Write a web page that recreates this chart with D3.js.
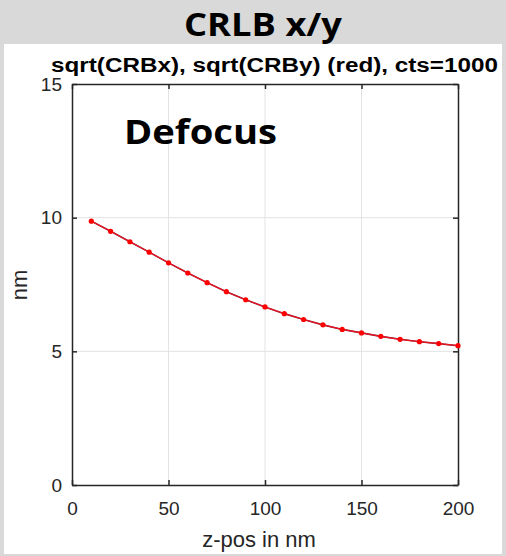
<!DOCTYPE html>
<html>
<head>
<meta charset="utf-8">
<script src="https://cdn.jsdelivr.net/npm/d3@7"></script>
<style>
  body { margin: 0; background: #d9d9d9; }
  svg { display: block; }
</style>
</head>
<body>
<div id="grafico"></div>
<script>
// dados
const zPos = [10, 20, 30, 40, 50, 60, 70, 80, 90, 100, 110, 120, 130, 140, 150, 160, 170, 180, 190, 200];
const crbY = [9.87, 9.49, 9.10, 8.71, 8.31, 7.93, 7.57, 7.23, 6.93, 6.66, 6.41, 6.19, 5.99, 5.82, 5.69, 5.56, 5.45, 5.36, 5.29, 5.21];
const crbX = crbY.slice(); // curva azul fica escondida por baixo da vermelha
const xTicks = [0, 50, 100, 150, 200];
const yTicks = [0, 5, 10, 15];

const width = 506, height = 556;
const margin = { top: 84, right: 48, bottom: 71, left: 72 };

const svg = d3.select("#grafico").append("svg")
    .attr("width", width)
    .attr("height", height);

// fundo cinza + painel branco
svg.append("rect").attr("width", width).attr("height", height).attr("fill", "#d9d9d9");
svg.append("rect").attr("x", 4).attr("y", 44).attr("width", 498).attr("height", 510).attr("fill", "#fff");

svg.append("text")
    .attr("x", 184).attr("y", 36)
    .attr("font-family", "'Open Sans', sans-serif")
    .attr("font-weight", "bold")
    .attr("font-size", 32)
    .attr("textLength", 158)
    .attr("lengthAdjust", "spacingAndGlyphs")
    .attr("fill", "#000")
    .text("CRLB x/y");

svg.append("text")
    .attr("x", 51).attr("y", 72)
    .attr("font-family", "'Liberation Sans', Arial, sans-serif")
    .attr("font-weight", "bold")
    .attr("font-size", 20)
    .attr("textLength", 447)
    .attr("lengthAdjust", "spacingAndGlyphs")
    .attr("fill", "#000")
    .text("sqrt(CRBx), sqrt(CRBy) (red), cts=1000");

const x = d3.scaleLinear().domain([0, 200]).range([margin.left, width - margin.right]);
const y = d3.scaleLinear().domain([0, 15]).range([height - margin.bottom, margin.top]);

// grade
const g = svg.append("g");
g.selectAll(".gx").data(xTicks.slice(1, -1)).enter().append("line")
    .attr("x1", d => x(d)).attr("x2", d => x(d))
    .attr("y1", y(0)).attr("y2", y(15))
    .attr("stroke", "#e3e3e3").attr("stroke-width", 1);
g.selectAll(".gy").data(yTicks.slice(1, -1)).enter().append("line")
    .attr("x1", x(0)).attr("x2", x(200))
    .attr("y1", d => y(d)).attr("y2", d => y(d))
    .attr("stroke", "#e3e3e3").attr("stroke-width", 1);

// texto "Defocus"
svg.append("text")
    .attr("x", 124).attr("y", 144)
    .attr("font-family", "'Open Sans', sans-serif")
    .attr("font-weight", "bold")
    .attr("font-size", 34)
    .attr("textLength", 153)
    .attr("lengthAdjust", "spacingAndGlyphs")
    .attr("fill", "#000")
    .text("Defocus");

// eixos (caixa estilo MATLAB, ticks para dentro)
const axisColor = "#262626";
const fontAxis = "'Liberation Sans', Arial, sans-serif";

function estilo(sel) {
    sel.select(".domain").attr("stroke", axisColor).attr("stroke-width", 1.5);
    sel.selectAll(".tick line").attr("stroke", axisColor).attr("stroke-width", 1.5);
    sel.selectAll(".tick text").attr("fill", axisColor).attr("font-family", fontAxis).attr("font-size", 19);
}

const eixoX = svg.append("g")
    .attr("transform", `translate(0,${y(0)})`)
    .call(d3.axisBottom(x).tickValues(xTicks).tickSizeInner(-5).tickSizeOuter(0).tickPadding(17));
estilo(eixoX);

const eixoY = svg.append("g")
    .attr("transform", `translate(${x(0)},0)`)
    .call(d3.axisLeft(y).tickValues(yTicks).tickSizeInner(-5).tickSizeOuter(0).tickPadding(10));
estilo(eixoY);

const eixoTopo = svg.append("g")
    .attr("transform", `translate(0,${y(15)})`)
    .call(d3.axisTop(x).tickValues(xTicks).tickSizeInner(-5).tickSizeOuter(0).tickFormat(""));
estilo(eixoTopo);

const eixoDir = svg.append("g")
    .attr("transform", `translate(${x(200)},0)`)
    .call(d3.axisRight(y).tickValues(yTicks).tickSizeInner(-5).tickSizeOuter(0).tickFormat(""));
estilo(eixoDir);

// rótulos dos eixos
svg.append("text")
    .attr("x", 259).attr("y", 547)
    .attr("text-anchor", "middle")
    .attr("font-family", fontAxis).attr("font-size", 22)
    .attr("fill", axisColor)
    .text("z-pos in nm");

svg.append("text")
    .attr("transform", `translate(27,285) rotate(-90)`)
    .attr("text-anchor", "middle")
    .attr("font-family", fontAxis).attr("font-size", 22)
    .attr("fill", axisColor)
    .text("nm");

// curvas
const linha = d3.line().x((d, i) => x(zPos[i])).y(d => y(d));

svg.append("path").datum(crbX)
    .attr("fill", "none").attr("stroke", "#7a3048").attr("stroke-width", 1.6)
    .attr("d", linha);

svg.append("path").datum(crbY)
    .attr("fill", "none").attr("stroke", "#f0101e").attr("stroke-width", 1.2)
    .attr("d", linha);

svg.selectAll(".ponto").data(crbY).enter().append("circle")
    .attr("cx", (d, i) => x(zPos[i]))
    .attr("cy", d => y(d))
    .attr("r", 2.6)
    .attr("fill", "#ff0000");
</script>
</body>
</html>
